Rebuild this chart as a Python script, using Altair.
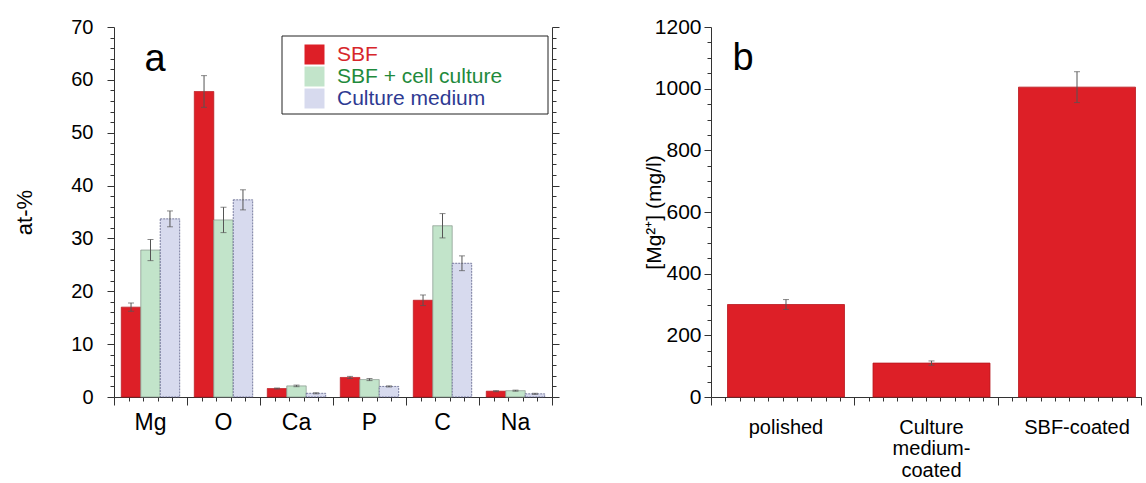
import altair as alt
import pandas as pd

FONT = "Liberation Sans"

# ---------- panel a data ----------
elements = ["Mg", "O", "Ca", "P", "C", "Na"]
series = ["SBF", "SBF + cell culture", "Culture medium"]
sbf = [17.0, 57.8, 1.6, 3.7, 18.3, 1.1]
sbf_err = [0.8, 3.0, 0.1, 0.2, 1.0, 0.1]
cell = [27.8, 33.5, 2.1, 3.3, 32.4, 1.2]
cell_err = [2.0, 2.4, 0.15, 0.2, 2.3, 0.1]
medium = [33.7, 37.3, 0.7, 2.0, 25.3, 0.6]
medium_err = [1.5, 1.9, 0.1, 0.1, 1.4, 0.1]

# ---------- panel b data ----------
samples = ["polished", "Culture|medium-|coated", "SBF-coated"]
mg_conc = [300, 110, 1005]
mg_err = [16, 7, 50]

RED = "#dd1f27"
GREEN = "#c2e4ca"
BLUE = "#d7daee"
AXC = "#333333"

rows = []
for s, vals, errs in zip(series, [sbf, cell, medium], [sbf_err, cell_err, medium_err]):
    for e, v, er in zip(elements, vals, errs):
        rows.append({"element": e, "series": s, "value": v, "lo": v - er, "hi": v + er})
df_a = pd.DataFrame(rows)

df_b = pd.DataFrame({"sample": samples, "value": mg_conc,
                     "lo": [v - e for v, e in zip(mg_conc, mg_err)],
                     "hi": [v + e for v, e in zip(mg_conc, mg_err)]})

major_a = {"condition": {"test": "datum.value % 10 === 0", "value": 7}, "value": 4}
major_b = {"condition": {"test": "datum.value % 200 === 0", "value": 7}, "value": 4}
major_int = {"condition": {"test": "abs(datum.value - round(datum.value)) < 0.001", "value": 8}, "value": 4}

# ---------------- panel a ----------------
axis_xa = alt.Axis(title=None, labelFontSize=23, labelFont=FONT, labelColor="black",
                   labelAngle=0, ticks=False, tickSize=0, labelPadding=14,
                   domainColor=AXC, labelBaseline="top")
scale_xa = alt.Scale(paddingInner=0.2, paddingOuter=0.1)
xa = alt.X("element:N", sort=elements, scale=scale_xa, axis=axis_xa)
xoff = alt.XOffset("series:N", sort=series, scale=alt.Scale(paddingInner=0, paddingOuter=0))
ya_scale = alt.Scale(domain=[0, 70], nice=False)

bars_a = alt.Chart(df_a).mark_bar(strokeWidth=0.8).encode(
    x=xa, xOffset=xoff,
    y=alt.Y("value:Q", scale=ya_scale,
            axis=alt.Axis(values=list(range(0, 71, 2)),
                          labelExpr="datum.value % 10 === 0 ? datum.label : ''",
                          tickSize=major_a, labelPadding=14, labelFontSize=20, labelFont=FONT,
                          labelColor="black", tickColor=AXC, domainColor=AXC, grid=False,
                          title="at-%", titleFontSize=22, titleFont=FONT, titleFontWeight="normal",
                          titleColor="black", titlePadding=34)),
    color=alt.Color("series:N", sort=series,
                    scale=alt.Scale(domain=series, range=[RED, GREEN, BLUE]),
                    legend=alt.Legend(title=None, orient="none", legendX=168, legendY=9,
                                      symbolType="square", symbolSize=400, symbolStrokeWidth=0,
                                      symbolOffset=14,
                                      labelFontSize=21, labelFont=FONT, labelOffset=12,
                                      labelLimit=400,
                                      rowPadding=0, padding=8,
                                      labelColor={"expr": "datum.label === 'SBF' ? '#d7262b' : (datum.label === 'SBF + cell culture' ? '#1f8a3c' : '#2e3a92')"})),
    stroke=alt.Stroke("series:N", sort=series,
                      scale=alt.Scale(domain=series, range=["#b8161d", "#8c9a90", "#5a5e86"]),
                      legend=None),
    strokeDash=alt.StrokeDash("series:N", sort=series,
                              scale=alt.Scale(domain=series, range=[[1, 0], [1, 0], [2, 1]]),
                              legend=None),
)

# frame drawn behind the legend entries
legend_frame = alt.Chart(pd.DataFrame({"f": [0]})).mark_rect(
    fill="white", stroke="#222", strokeWidth=1).encode(
    x=alt.value(168), x2=alt.value(434), y=alt.value(9), y2=alt.value(87))

err_a = alt.Chart(df_a).mark_rule(color="#555", strokeWidth=1).encode(
    x=xa, xOffset=xoff,
    y=alt.Y("lo:Q", scale=ya_scale, axis=None), y2="hi:Q")

caps_a = alt.Chart(df_a).transform_fold(["lo", "hi"], as_=["k", "cap"]).mark_tick(
    color="#555", size=6, thickness=1).encode(
    x=xa, xOffset=xoff,
    y=alt.Y("cap:Q", scale=ya_scale,
            axis=alt.Axis(orient="right", values=list(range(0, 71, 2)), labels=False,
                          domain=True, ticks=True,
                          tickSize=major_a, tickColor=AXC, domainColor=AXC, grid=False, title=None)))

letter_a = alt.Chart(pd.DataFrame({"t": ["a"]})).mark_text(
    fontSize=38, font=FONT, align="center", baseline="alphabetic", color="black").encode(
    text="t:N", x=alt.value(41), y=alt.value(44))

ticks_a = alt.Chart(pd.DataFrame({"t": [0, 6]})).mark_point(opacity=0).encode(
    x=alt.X("t:Q", scale=alt.Scale(domain=[0, 6], nice=False, zero=False),
            axis=alt.Axis(orient="bottom", values=[i / 5 for i in range(31)], labels=False,
                          title=None, domain=False, tickSize=major_int, tickColor=AXC, grid=False)))

inner_a = alt.layer(legend_frame, bars_a, err_a, caps_a, letter_a).resolve_axis(y="independent")
panel_a = alt.layer(inner_a, ticks_a).resolve_scale(x="independent").properties(
    width=438, height=370, view=alt.ViewConfig(stroke=None))

# ---------------- panel b ----------------
axis_xb = alt.Axis(title=None, labelFontSize=20, labelFont=FONT, labelColor="black",
                   labelAngle=0, ticks=False, tickSize=0, labelPadding=20,
                   labelExpr="split(datum.label, '|')", labelLineHeight=21.5,
                   domainColor=AXC, labelBaseline="top")
xb = alt.X("sample:N", sort=samples,
           scale=alt.Scale(paddingInner=0.196, paddingOuter=0.0756, align=0.75), axis=axis_xb)
yb_scale = alt.Scale(domain=[0, 1200], nice=False)
axis_yb = alt.Axis(values=list(range(0, 1201, 50)),
                   labelExpr="datum.value % 200 === 0 ? datum.label : ''",
                   tickSize=major_b, labelPadding=3, labelFontSize=21, labelFont=FONT,
                   labelColor="black", tickColor=AXC, domainColor=AXC, grid=False,
                   format="d",
                   title="[Mg²⁺] (mg/l)", titleFontSize=21, titleFont=FONT,
                   titleFontWeight="normal", titleColor="black", titleX=-47)

bars_b = alt.Chart(df_b).mark_bar(color=RED, stroke="#b8161d", strokeWidth=0.8).encode(
    x=xb, y=alt.Y("value:Q", scale=yb_scale, axis=axis_yb))

err_b = alt.Chart(df_b).mark_rule(color="#555", strokeWidth=1).encode(
    x=xb, y=alt.Y("lo:Q", scale=yb_scale, axis=None), y2="hi:Q")

caps_b = alt.Chart(df_b).transform_fold(["lo", "hi"], as_=["k", "cap"]).mark_tick(
    color="#555", size=6, thickness=1).encode(
    x=xb, y=alt.Y("cap:Q", scale=yb_scale, axis=None))

letter_b = alt.Chart(pd.DataFrame({"t": ["b"]})).mark_text(
    fontSize=38, font=FONT, align="center", baseline="alphabetic", color="black").encode(
    text="t:N", x=alt.value(32), y=alt.value(43))

ticks_b = alt.Chart(pd.DataFrame({"t": [0, 3]})).mark_point(opacity=0).encode(
    x=alt.X("t:Q", scale=alt.Scale(domain=[0, 3], nice=False, zero=False),
            axis=alt.Axis(orient="bottom", values=[i / 10 for i in range(31)], labels=False,
                          title=None, domain=False, tickSize=major_int, tickColor=AXC, grid=False)))

inner_b = alt.layer(bars_b, err_b, caps_b, letter_b).resolve_axis(y="independent")
panel_b = alt.layer(inner_b, ticks_b).resolve_scale(x="independent").properties(
    width=430, height=370, view=alt.ViewConfig(stroke=None))

chart = alt.hconcat(panel_a, panel_b, spacing=83).properties(
    padding={"left": 13, "top": 16, "right": 0, "bottom": 0}
).configure_view(stroke=None).configure(font=FONT).configure_axisTop(
    domain=False, ticks=False, labels=False
).configure_axisRight(domain=False, ticks=False, labels=False)

chart.save("out.html", embed_options={"renderer": "svg", "actions": False})
